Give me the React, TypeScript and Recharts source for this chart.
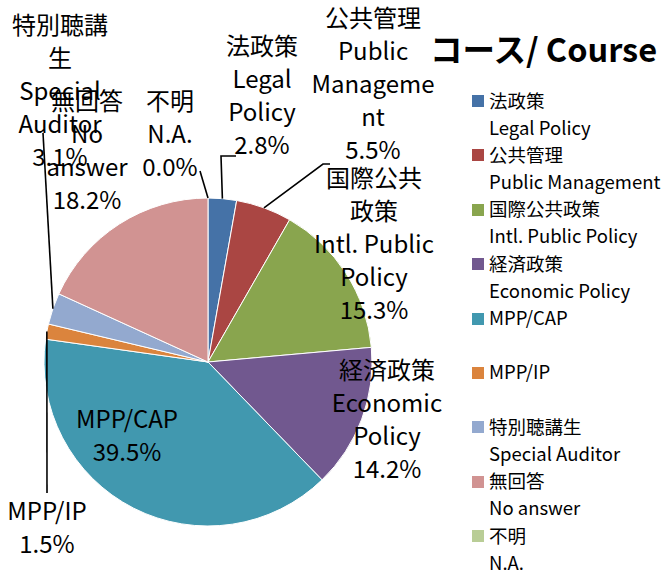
import React from 'react';
import { PieChart, Pie, Cell, Legend, Customized } from 'recharts';

const courseJa = ['法政策', '公共管理', '国際公共政策', '経済政策', 'MPP/CAP', 'MPP/IP', '特別聴講生', '無回答', '不明'];
const courseEn = ['Legal Policy', 'Public Management', 'Intl. Public Policy', 'Economic Policy', '', '', 'Special Auditor', 'No answer', 'N.A.'];
const shares = [2.8, 5.5, 15.3, 14.2, 39.5, 1.5, 3.1, 18.2, 0.0];
const labelText = [
  ['法政策', 'Legal', 'Policy'],
  ['公共管理', 'Public', 'Manageme', 'nt'],
  ['国際公共', '政策', 'Intl. Public', 'Policy'],
  ['経済政策', 'Economic', 'Policy'],
  ['MPP/CAP'],
  ['MPP/IP'],
  ['特別聴講', '生', 'Special', 'Auditor'],
  ['無回答', 'No', 'answer'],
  ['不明', 'N.A.'],
];
const colors = ['#4572A7', '#AA4643', '#89A54E', '#71588F', '#4198AF', '#DB843D', '#93A9CF', '#D19392', '#B9CD96'];
const titleText = 'コース/ Course';

// label placement (layout only)
const labelLayout: { x: number; y: number; path?: number[][] }[] = [
  { x: 262, y: 55, path: [[221, 156], [236, 156]] },
  { x: 373, y: 27, path: [[323, 164], [330, 164]] },
  { x: 374, y: 187 },
  { x: 387, y: 379 },
  { x: 127, y: 428 },
  { x: 47, y: 520, path: [[47, 493]] },
  { x: 60, y: 34, path: [[43, 133]] },
  { x: 87, y: 110 },
  { x: 170, y: 110, path: [[200, 171]] },
];

const FONT = "'Noto Sans CJK JP', 'Noto Sans', sans-serif";
const LINE = 33;

const data = courseJa.map((name, i) => ({ name, value: shares[i] }));

const renderLabel = (props: any) => {
  const { cx, cy, midAngle, outerRadius, index } = props;
  const lay = labelLayout[index];
  const lines = [...labelText[index], shares[index].toFixed(1) + '%'];
  const rad = Math.PI / 180;
  const sx = cx + outerRadius * Math.cos(-midAngle * rad);
  const sy = cy + outerRadius * Math.sin(-midAngle * rad);
  let leader = null;
  if (lay.path) {
    const pts = [[sx, sy], ...lay.path].map((p) => p.join(',')).join(' ');
    leader = <polyline points={pts} fill="none" stroke="#000" strokeWidth={1.6} />;
  }
  return (
    <g key={'lab' + index}>
      {leader}
      {lines.map((t, j) => (
        <text key={j} x={lay.x} y={lay.y + j * LINE} textAnchor="middle" fontFamily={FONT} fontSize={24} fill="#000">
          {t}
        </text>
      ))}
    </g>
  );
};

const renderLegend = (props: any) => {
  const payload = props.payload || [];
  return (
    <div style={{ fontFamily: FONT, fontSize: 18.5, color: '#000' }}>
      {payload.map((entry: any, i: number) => (
        <div key={i} style={{ position: 'relative', paddingLeft: 17, whiteSpace: 'nowrap' }}>
          <span style={{ position: 'absolute', left: 0, top: 8.5, width: 12, height: 12, background: colors[i] }} />
          <div style={{ height: 27.2, lineHeight: '27.2px' }}>{courseJa[i]}</div>
          <div style={{ height: 27.2, lineHeight: '27.2px' }}>{courseEn[i]}</div>
        </div>
      ))}
    </div>
  );
};

const Title = () => (
  <text x={430} y={62} fontFamily={FONT} fontSize={32.5} fontWeight="bold" fill="#000">
    {titleText}
  </text>
);

export default function App() {
  return (
    <div style={{ position: 'absolute', left: 0, top: 0, width: 662, height: 576, background: '#fff' }}>
      <PieChart width={662} height={576} margin={{ top: 0, right: 0, bottom: 0, left: 0 }}>
        <Pie
          data={data}
          dataKey="value"
          nameKey="name"
          cx={208}
          cy={362}
          outerRadius={164}
          startAngle={90}
          endAngle={-270}
          stroke="#fff"
          strokeWidth={1}
          label={renderLabel}
          labelLine={false}
          isAnimationActive={false}
        >
          {data.map((d, i) => (
            <Cell key={i} fill={colors[i]} />
          ))}
        </Pie>
        <Legend
          layout="vertical"
          align="right"
          verticalAlign="top"
          content={renderLegend}
          wrapperStyle={{ position: 'absolute', left: 472, top: 86.5, width: 190 }}
        />
        <Customized component={Title} />
      </PieChart>
    </div>
  );
}
